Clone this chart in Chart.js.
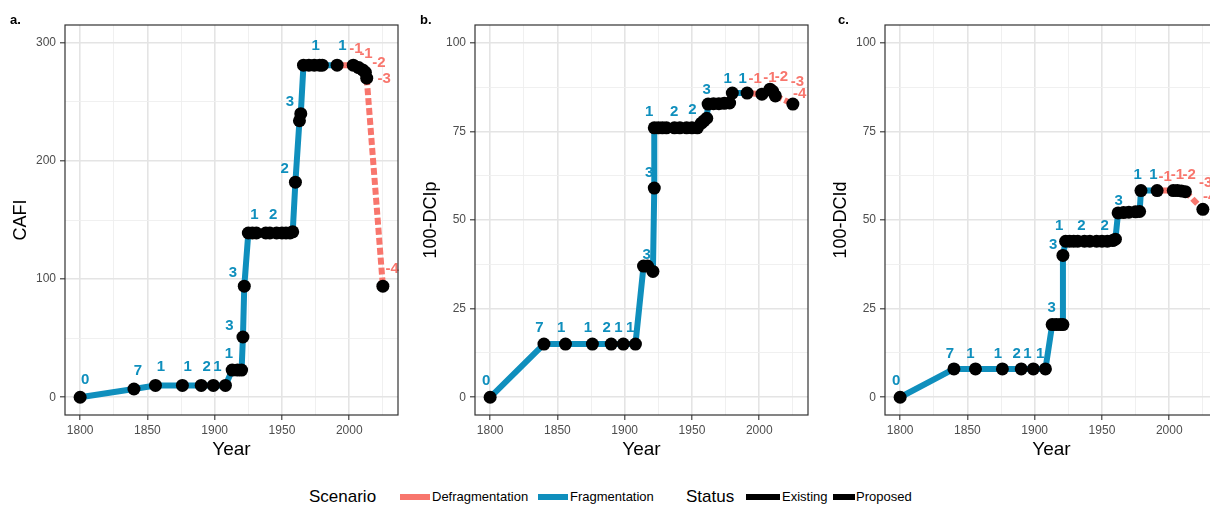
<!DOCTYPE html>
<html>
<head>
<meta charset="utf-8">
<script src="https://cdn.jsdelivr.net/npm/chart.js@4.4.1/dist/chart.umd.min.js"></script>
<style>
  html, body { margin: 0; padding: 0; background: #fff; overflow: hidden; }
  body { width: 1210px; height: 505px; position: relative; font-family: "Liberation Sans", Arial, sans-serif; }
  .panel { position: absolute; top: 0; width: 410px; height: 470px; }
  .tag { position: absolute; top: 12px; font-weight: bold; font-size: 13px; color: #000; }
  .lg { position: absolute; white-space: nowrap; color: #000; }
  .lg.head { font-size: 17px; top: 487px; }
  .lg.item { font-size: 13px; top: 489px; }
  .key { position: absolute; top: 494px; height: 6px; }
</style>
</head>
<body>

<div class="panel" style="left:0"><canvas id="chart-a" width="410" height="470"></canvas></div>
<div class="panel" style="left:410px"><canvas id="chart-b" width="410" height="470"></canvas></div>
<div class="panel" style="left:820px"><canvas id="chart-c" width="410" height="470"></canvas></div>

<div class="tag" style="left:10px">a.</div>
<div class="tag" style="left:420px">b.</div>
<div class="tag" style="left:838px">c.</div>

<!-- legend -->
<div class="lg head" style="left:309px">Scenario</div>
<div class="key" style="left:400px; width:30px; background:#f8766d"></div>
<div class="lg item" style="left:432px">Defragmentation</div>
<div class="key" style="left:538px; width:30px; background:#0f8fbd"></div>
<div class="lg item" style="left:570px">Fragmentation</div>
<div class="lg head" style="left:686px">Status</div>
<div class="key" style="left:746px; width:34px; background:#000"></div>
<div class="lg item" style="left:782px">Existing</div>
<div class="key" style="left:833px; width:22px; background:#000"></div>
<div class="lg item" style="left:856px">Proposed</div>

<script>
// ─── Data ────────────────────────────────────────────────────────────────

// a. CAFI
const YEARS_A = [1800, 1840, 1856, 1876, 1890, 1899, 1908, 1913, 1917, 1920, 1921, 1922,
                 1925, 1928, 1931, 1938, 1941, 1946, 1950, 1953, 1956, 1958, 1960, 1963, 1964,
                 1966, 1970, 1974, 1978, 1980, 1991, 2003, 2007, 2010, 2012, 2013, 2025];
const CAFI    = [0, 7, 10, 10, 10, 10, 10, 23, 23, 23, 51, 94,
                 139, 139, 139, 139, 139, 139, 139, 139, 139, 140, 182, 234, 240,
                 281, 281, 281, 281, 281, 281, 281, 279, 277, 275, 270, 94];
const LABELS_A = [
  [1803.7, 15, "0"], [1843, 22, "7"], [1860, 25.7, "1"], [1880, 25.7, "1"], [1894, 25.7, "2"],
  [1902, 25.7, "1"], [1910.5, 37, "1"], [1911, 60.5, "3"], [1913.5, 105, "3"], [1929.5, 154, "1"],
  [1943.5, 154, "2"], [1952, 193, "2"], [1956, 250, "3"], [1975, 297, "1"], [1995, 297, "1"],
  [2005, 295, "-1"], [2012.5, 291, "-1"], [2022, 283, "-2"], [2026, 269.5, "-3"], [2032, 109, "-4"],
];

// b. 100-DCIp
const YEARS_B = [1800, 1840, 1856, 1876, 1890, 1899, 1908, 1914, 1917, 1921, 1922, 1922,
                 1925, 1928, 1931, 1937, 1941, 1946, 1950, 1954, 1957, 1959, 1961, 1962,
                 1966, 1970, 1974, 1978, 1980, 1991, 2002, 2008, 2010, 2012, 2025];
const DCIP    = [0, 15, 15, 15, 15, 15, 15, 37, 37, 35.5, 59, 76,
                 76, 76, 76, 76, 76, 76, 76, 76, 77.3, 78, 78.7, 82.7,
                 82.8, 82.8, 82.9, 83, 85.8, 85.8, 85.5, 86.9, 86.3, 85, 82.7];
const LABELS_B = [
  [1797, 4.5, "0"], [1836.7, 19.5, "7"], [1852.8, 19.5, "1"], [1872.7, 19.5, "1"], [1886.7, 19.5, "2"],
  [1895.3, 19.5, "1"], [1904, 19.5, "1"], [1916.3, 40.2, "3"], [1918.2, 63.2, "3"], [1918.2, 80.6, "1"],
  [1936.7, 80.6, "2"], [1950.3, 81.2, "2"], [1961, 86.7, "3"], [1976.6, 89.8, "1"], [1987.7, 89.8, "1"],
  [1997, 89.8, "-1"], [2008, 90, "-1"], [2016.5, 90.4, "-2"], [2028.3, 89, "-3"], [2030, 85.6, "-4"],
];

// c. 100-DCId
const YEARS_C = [1800, 1840, 1856, 1876, 1890, 1899, 1908, 1913, 1916, 1919, 1921, 1921,
                 1923, 1926, 1929, 1932, 1937, 1941, 1946, 1950, 1954, 1958, 1960, 1962,
                 1966, 1970, 1975, 1978, 1979, 1991, 2003, 2006, 2009, 2012, 2025];
const DCID    = [0, 8, 8, 8, 8, 8, 8, 20.5, 20.5, 20.5, 20.5, 40,
                 44, 44, 44, 44, 44, 44, 44, 44, 44, 44.2, 44.6, 52,
                 52.1, 52.2, 52.3, 52.4, 58.3, 58.3, 58.3, 58.3, 58.2, 58, 53];
const LABELS_C = [
  [1797, 4.5, "0"], [1837, 12.3, "7"], [1852.2, 12.3, "1"], [1872.7, 12.3, "1"], [1886.7, 12.3, "2"],
  [1894.6, 12.3, "1"], [1904, 12.3, "1"], [1912.6, 25.2, "3"], [1913.8, 43, "3"], [1918.2, 48.4, "1"],
  [1934.8, 48.4, "2"], [1952, 48.4, "2"], [1962.5, 55.5, "3"], [1976.6, 62.7, "1"], [1988.2, 62.7, "1"],
  [1997, 62.3, "-1"], [2006.1, 62.7, "-1"], [2014.8, 62.7, "-2"], [2027.1, 60.4, "-3"], [2030, 56.5, "-4"],
];

// ticks / gridlines
const X_GRID    = [1800, 1825, 1850, 1875, 1900, 1925, 1950, 1975, 2000, 2025];
const X_MAJOR   = [1800, 1850, 1900, 1950, 2000];
const Y_GRID_A  = [0, 50, 100, 150, 200, 250, 300];
const Y_MAJOR_A = [0, 100, 200, 300];
const Y_GRID_BC  = [0, 12.5, 25, 37.5, 50, 62.5, 75, 87.5, 100];
const Y_MAJOR_BC = [0, 25, 50, 75, 100];

const DEFRAG_FROM   = 1991;   // segments after this year belong to the defragmentation scenario
const PROPOSED_YEAR = 2025;   // proposed (not yet existing) status

// ─── Styling ─────────────────────────────────────────────────────────────

const BLUE   = "#0f8fbd";
const SALMON = "#f8766d";
const FONT   = '"Liberation Sans", Arial, sans-serif';

const textLabels = {
  id: "textLabels",
  beforeDatasetsDraw(chart, args, opts) {
    const { ctx, scales: { x, y } } = chart;
    ctx.save();
    ctx.font = "bold 15px " + FONT;
    ctx.textAlign = "center";
    ctx.textBaseline = "middle";
    for (const [yr, v, t] of opts.items) {
      ctx.fillStyle = t.startsWith("-") ? SALMON : BLUE;
      ctx.fillText(t, x.getPixelForValue(yr), y.getPixelForValue(v));
    }
    ctx.restore();
  },
};

const panelBorder = {
  id: "panelBorder",
  afterDraw(chart) {
    const { ctx, chartArea: a } = chart;
    ctx.save();
    ctx.strokeStyle = "#333";
    ctx.lineWidth = 1.2;
    ctx.strokeRect(a.left, a.top, a.right - a.left, a.bottom - a.top);
    ctx.restore();
  },
};

function gridStyle(majors) {
  return {
    color:     c => majors.includes(c.tick.value) ? "#e4e4e4" : "#eeeeee",
    lineWidth: c => majors.includes(c.tick.value) ? 1.6 : 0.9,
    tickColor: c => majors.includes(c.tick.value) ? "#333" : "rgba(0,0,0,0)",
    tickLength: 5,
    tickWidth: 1.1,
  };
}

function makePanel(id, years, values, labels, yTitle, yMin, yMax, yGrid, yMajor) {
  const ctx = document.getElementById(id).getContext("2d");
  new Chart(ctx, {
    type: "line",
    data: {
      datasets: [{
        data: years.map((yr, i) => ({ x: yr, y: values[i] })),
        borderWidth: 6,
        borderCapStyle: "butt",
        borderJoinStyle: "round",
        pointRadius: 6.5,
        pointBackgroundColor: "#000",
        pointBorderWidth: 0,
        tension: 0,
        segment: {
          borderColor: c => c.p0.parsed.x >= DEFRAG_FROM ? SALMON : BLUE,
          borderDash:  c => c.p1.parsed.x >= PROPOSED_YEAR ? [7, 3] : undefined,
        },
      }],
    },
    options: {
      responsive: false,
      animation: false,
      events: [],
      layout: { padding: { top: 25, right: 12, left: 0, bottom: 0 } },
      plugins: {
        legend:  { display: false },
        tooltip: { enabled: false },
        textLabels: { items: labels },
      },
      scales: {
        x: {
          type: "linear",
          min: 1788.75,
          max: 2036.25,
          afterBuildTicks: s => { s.ticks = X_GRID.map(v => ({ value: v })); },
          afterFit: s => { s.height = 55; },
          grid: gridStyle(X_MAJOR),
          border: { display: false },
          ticks: {
            color: "#4d4d4d",
            font: { family: FONT, size: 12 },
            padding: 3,
            maxRotation: 0,
            autoSkip: false,
            callback: v => X_MAJOR.includes(v) ? String(v) : "",
          },
          title: { display: true, text: "Year", color: "#000", font: { family: FONT, size: 19 }, padding: { top: 0, bottom: 9 } },
        },
        y: {
          min: yMin,
          max: yMax,
          afterBuildTicks: s => { s.ticks = yGrid.map(v => ({ value: v })); },
          afterFit: s => { s.width = 65; },
          grid: gridStyle(yMajor),
          border: { display: false },
          ticks: {
            color: "#4d4d4d",
            font: { family: FONT, size: 12 },
            padding: 4,
            autoSkip: false,
            callback: v => yMajor.includes(v) ? String(v) : "",
          },
          title: { display: true, text: yTitle, color: "#000", font: { family: FONT, size: 18 }, padding: { top: 10, bottom: 0 } },
        },
      },
    },
    plugins: [textLabels, panelBorder],
  });
}

makePanel("chart-a", YEARS_A, CAFI, LABELS_A, "CAFI",     -15, 315, Y_GRID_A,  Y_MAJOR_A);
makePanel("chart-b", YEARS_B, DCIP, LABELS_B, "100-DCIp", -5,  105, Y_GRID_BC, Y_MAJOR_BC);
makePanel("chart-c", YEARS_C, DCID, LABELS_C, "100-DCId", -5,  105, Y_GRID_BC, Y_MAJOR_BC);
</script>
</body>
</html>
